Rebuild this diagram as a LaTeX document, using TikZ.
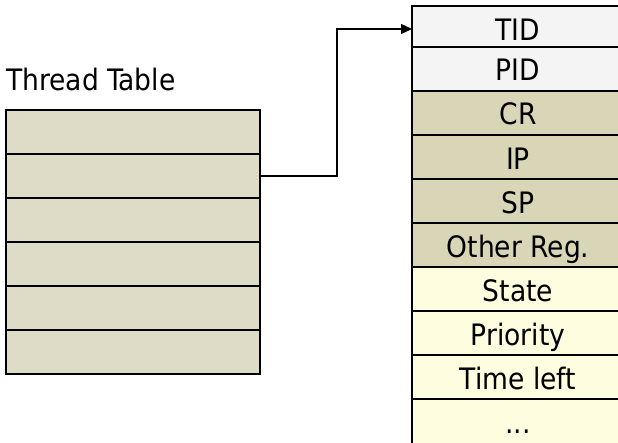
\documentclass[tikz,border=0pt]{standalone}
\usepackage{fontspec}
\setmainfont{DejaVu Sans Condensed}
\usetikzlibrary{arrows.meta}
\definecolor{tblfill}{HTML}{DEDCC6}
\definecolor{regfill}{HTML}{D9D6B8}
\definecolor{idfill}{HTML}{F4F4F4}
\definecolor{infofill}{HTML}{FEFDE0}
\begin{document}
\begin{tikzpicture}[x=1pt,y=-1pt,
  tcell/.style={draw=black, line width=1.3pt, fill=tblfill, minimum width=254pt,
    minimum height=44pt, inner sep=0pt, outer sep=0pt, anchor=north west},
  fcell/.style={draw=black, line width=1.3pt, minimum width=210pt,
    inner sep=0pt, outer sep=0pt, anchor=north west},
  lbl/.style={inner sep=0pt, anchor=base, font=\fontsize{29.5}{32}\selectfont},
  arr/.style={draw=black, line width=1.3pt, -{Triangle[length=11pt,width=10pt]}}]
\useasboundingbox (0,0) rectangle (618,443);
% title
\node[inner sep=0pt, anchor=base west, font=\fontsize{29.5}{32}\selectfont] (title) at (6,90.7) {Thread Table};
% thread table
\node[tcell] (t1) at (6,110) {};
\node[tcell] (t2) at (6,154) {};
\node[tcell] (t3) at (6,198) {};
\node[tcell] (t4) at (6,242) {};
\node[tcell] (t5) at (6,286) {};
\node[tcell] (t6) at (6,330) {};
% thread control block
\node[fcell, fill=idfill,   minimum height=41pt] (tid)   at (412,6)   {};
\node[fcell, fill=idfill,   minimum height=44pt] (pid)   at (412,47)  {};
\node[fcell, fill=regfill,  minimum height=44pt] (cr)    at (412,91)  {};
\node[fcell, fill=regfill,  minimum height=44pt] (ip)    at (412,135) {};
\node[fcell, fill=regfill,  minimum height=44pt] (sp)    at (412,179) {};
\node[fcell, fill=regfill,  minimum height=44pt] (oreg)  at (412,223) {};
\node[fcell, fill=infofill, minimum height=44pt] (state) at (412,267) {};
\node[fcell, fill=infofill, minimum height=44pt] (prio)  at (412,311) {};
\node[fcell, fill=infofill, minimum height=44pt] (tleft) at (412,355) {};
\node[fcell, fill=infofill, minimum height=48pt] (more)  at (412,399) {};
% labels
\node[lbl] (ltid)   at (518,40.5)  {TID};
\node[lbl] (lpid)   at (518,80.7)  {PID};
\node[lbl] (lcr)    at (518,125)   {CR};
\node[lbl] (lip)    at (518,169.3) {IP};
\node[lbl] (lsp)    at (518,213.3) {SP};
\node[lbl] (loreg)  at (518,257.5) {Other Reg.};
\node[lbl] (lstate) at (518,301.5) {State};
\node[lbl] (lprio)  at (518,345.5) {Priority};
\node[lbl] (ltleft) at (518,389.5) {Time left};
\node[lbl] (lmore)  at (518,433.5) {...};
% connector
\draw[arr] (t2.east) -- ++(77,0) |- ([yshift=-2.5pt]tid.west);
\end{tikzpicture}
\end{document}
